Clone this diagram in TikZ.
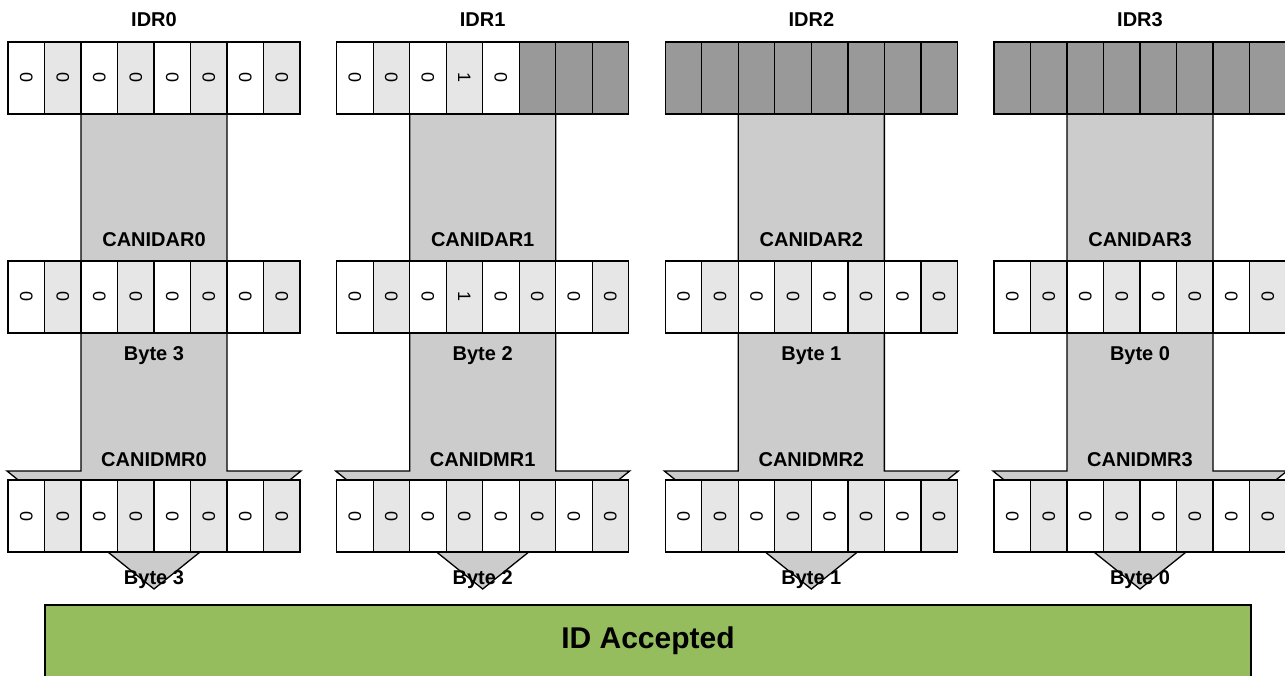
\documentclass[tikz,border=0pt]{standalone}
\usepackage{fontspec}
\setmainfont{Liberation Sans}
\usetikzlibrary{positioning}
\definecolor{bitlight}{RGB}{230,230,230}
\definecolor{bitdark}{RGB}{153,153,153}
\definecolor{flowgray}{RGB}{204,204,204}
\definecolor{accgreen}{RGB}{149,189,94}

\begin{document}
\begin{tikzpicture}[x=1pt, y=-1pt, node distance=14pt,
    bit/.style={rectangle, draw, line width=1.3pt, minimum width=36.5pt, minimum height=72pt, inner sep=0pt, outer sep=0pt, font=\fontsize{18}{18}\selectfont},
    bitw/.style={bit, fill=white},
    bitg/.style={bit, fill=bitlight},
    bitx/.style={bit, fill=bitdark},
    lbl/.style={font=\fontsize{20}{22}\selectfont\bfseries, inner sep=0pt, text height=14pt, text depth=0pt},
    flow/.style={draw, fill=flowgray, line width=1.3pt, line join=miter}]
    \useasboundingbox (0,0) rectangle (1285,675);
    \foreach \g/\byte/\idrbits/\arbits in {0/3/{0,0,0,0,0,0,0,0}/{0,0,0,0,0,0,0,0},
        1/2/{0,0,0,1,0,x,x,x}/{0,0,0,1,0,0,0,0},
        2/1/{x,x,x,x,x,x,x,x}/{0,0,0,0,0,0,0,0},
        3/0/{x,x,x,x,x,x,x,x}/{0,0,0,0,0,0,0,0}} {
      \pgfmathsetmacro\xo{8+328.67*\g}
      % big arrow behind the registers
      \path [flow] (\xo+73,100) -- (\xo+73,471) -- (\xo-1,471) -- (\xo+146,589)
        -- (\xo+293,471) -- (\xo+219,471) -- (\xo+219,100) -- cycle;
      % IDR row
      \foreach \v [count=\i from 0] in \idrbits {
        \pgfmathsetmacro\cx{\xo+18.25+36.5*\i}
        \ifodd\i\relax\def\bs{bitg}\else\def\bs{bitw}\fi
        \if\v x\def\bs{bitx}\fi
        \node [\bs] (idr\g-\i) at (\cx,78) {\if\v x\else\rotatebox{-90}{\v}\fi};
      }
      % CANIDAR row
      \foreach \v [count=\i from 0] in \arbits {
        \pgfmathsetmacro\cx{\xo+18.25+36.5*\i}
        \ifodd\i\relax\def\bs{bitg}\else\def\bs{bitw}\fi
        \node [\bs] (ar\g-\i) at (\cx,297) {\rotatebox{-90}{\v}};
      }
      % CANIDMR row
      \foreach \i in {0,...,7} {
        \pgfmathsetmacro\cx{\xo+18.25+36.5*\i}
        \ifodd\i\relax\def\bs{bitg}\else\def\bs{bitw}\fi
        \node [\bs] (mr\g-\i) at (\cx,516) {\rotatebox{-90}{0}};
      }
      \node [lbl, above=15pt of idr\g-3.north east] (idrname\g) {IDR\g};
      \node [lbl, above=of ar\g-3.north east] (arname\g) {CANIDAR\g};
      \node [lbl, below=13pt of ar\g-3.south east] (arbyte\g) {Byte \byte};
      \node [lbl, above=13pt of mr\g-3.north east] (mrname\g) {CANIDMR\g};
      \node [lbl, below=18pt of mr\g-3.south east] (mrbyte\g) {Byte \byte};
    }
    \node [draw, fill=accgreen, line width=1.3pt, minimum width=1206pt, minimum height=72pt,
      font=\fontsize{30}{32}\selectfont\bfseries] (acc) at (648,641) {ID Accepted};
\end{tikzpicture}
\end{document}
